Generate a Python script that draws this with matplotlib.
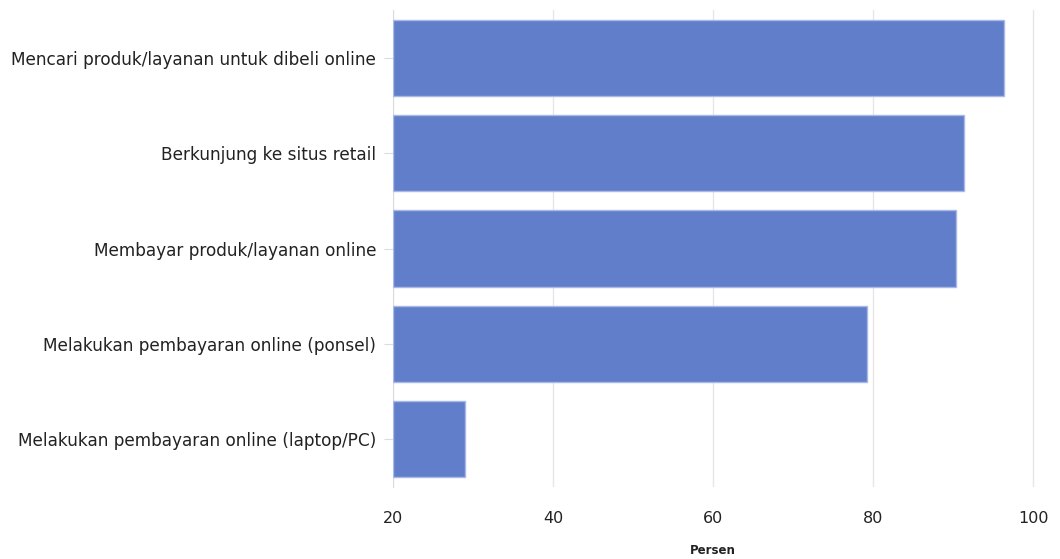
import matplotlib.pyplot as plt

plt.rcParams["font.family"] = ["DejaVu Sans"]

# data
kategori = [
    "Mencari produk/layanan untuk dibeli online",
    "Berkunjung ke situs retail",
    "Membayar produk/layanan online",
    "Melakukan pembayaran online (ponsel)",
    "Melakukan pembayaran online (laptop/PC)",
]
persen = [96.3, 91.4, 90.3, 79.2, 29.0]
xticks = [20, 40, 60, 80, 100]

fig = plt.figure(figsize=(10.6, 5.59), dpi=100)
# axes box in pixels: left 393, right 1050, top 10, bottom 487
ax = fig.add_axes([393 / 1060, 1 - 487 / 559, (1050 - 393) / 1060, (487 - 10) / 559])

ypos = list(range(len(kategori)))
ax.barh(ypos, [p - 20 for p in persen], left=20, height=0.8,
        color="#617ecb", edgecolor="#a9b8e6", linewidth=1, zorder=3)

ax.set_xlim(20, 102.1)
ax.set_ylim(len(kategori) - 0.5, -0.5)
ax.set_yticks(ypos)
ax.set_yticklabels(kategori, fontsize=12.2, color="#222222")
ax.set_xticks(xticks)
ax.set_xticklabels([str(t) for t in xticks], fontsize=11.5, color="#222222")

ax.grid(axis="x", color="#e6e6e6", linewidth=1, zorder=0)
for s in ["top", "right", "bottom"]:
    ax.spines[s].set_visible(False)
ax.spines["left"].set_color("#dcdcdc")
ax.tick_params(axis="y", length=6.5, color="#dcdcdc", pad=5.5)
ax.tick_params(axis="x", length=0, pad=17)

ax.set_xlabel("Persen", fontsize=8.5, fontweight="bold", color="#222222")
ax.xaxis.set_label_coords((60 - 20) / (102.1 - 20), -0.12)

fig.savefig("out.png", dpi=100)
